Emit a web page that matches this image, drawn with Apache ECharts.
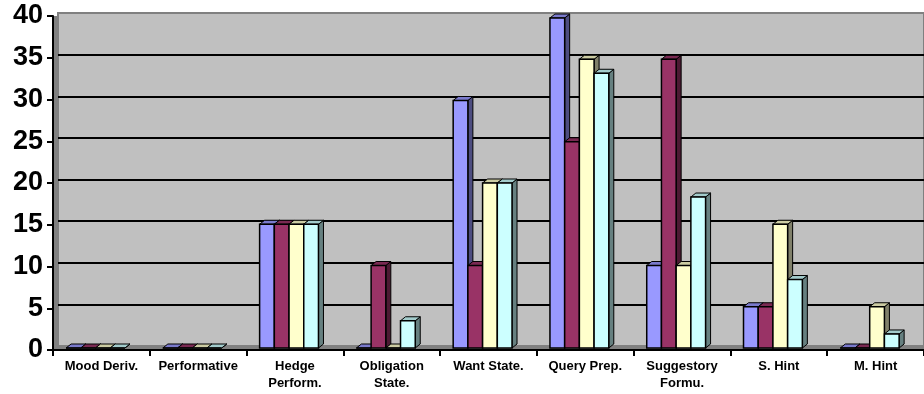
<!DOCTYPE html>
<html lang="en">
<head>
	<meta charset="UTF-8">
	<title>Chart</title>
	<style>
		html, body { margin: 0; padding: 0; background: #fff; }
	</style>
</head>
<body>
	<div id="main" style="width: 924px;height:394px;"></div>
<script type="text/javascript" src="https://cdn.jsdelivr.net/npm/echarts@6/dist/echarts.min.js"></script>
<script type="text/javascript">
	// data
	var categories = ['Mood Deriv.', 'Performative', 'Hedge\nPerform.', 'Obligation\nState.', 'Want State.',
		'Query Prep.', 'Suggestory\nFormu.', 'S. Hint', 'M. Hint'];
	var series1 = [0, 0, 15, 0, 30, 40, 10, 5, 0];
	var series2 = [0, 0, 15, 10, 10, 25, 35, 5, 0];
	var series3 = [0, 0, 15, 0, 20, 35, 10, 15, 5];
	var series4 = [0, 0, 15, 3.3, 20, 33.3, 18.3, 8.3, 1.7];
	var yMin = 0, yMax = 40, yStep = 5;

	var frontColors = ['#9999FF', '#993366', '#FFFFCC', '#CCFFFF'];
	var topColors = ['#7A7ACC', '#7A2952', '#CCCCA3', '#A3CCCC'];
	var sideColors = ['#4D4D80', '#4D1A33', '#80806A', '#668080'];

	var font = "'Liberation Sans', Arial, sans-serif";
	var myChart = echarts.init(document.getElementById('main'));

	// one custom series per data series, drawn as a little 3D column
	function makeSeries(data, k) {
		return {
			type: 'custom',
			name: 'Series ' + (k + 1),
			xAxisIndex: 2,
			yAxisIndex: 2,
			z: 3,
			clip: false,
			data: data.map(function (v, i) { return [i, v]; }),
			renderItem: function (params, api) {
				var cat = api.value(0), v = api.value(1);
				var base = api.coord([cat, 0]);
				var top = api.coord([cat, v]);
				var band = api.size([1, 0])[0];
				var w = band * 0.152;
				var x = base[0] - band * 0.365 + k * w;
				var dx = 5, dy = -4;
				var yb = base[1], yt = top[1];
				return {
					type: 'group',
					children: [
						{
							type: 'polygon',
							shape: { points: [[x + w, yt], [x + w + dx, yt + dy], [x + w + dx, yb + dy], [x + w, yb]] },
							style: { fill: sideColors[k], stroke: '#000', lineWidth: 1 }
						},
						{
							type: 'polygon',
							shape: { points: [[x, yt], [x + dx, yt + dy], [x + w + dx, yt + dy], [x + w, yt]] },
							style: { fill: topColors[k], stroke: '#000', lineWidth: 1 }
						},
						{
							type: 'rect',
							shape: { x: x, y: yt, width: w, height: yb - yt },
							style: { fill: frontColors[k], stroke: '#000', lineWidth: 1.5 }
						}
					]
				};
			}
		};
	}

	var gridLineColors = [];
	for (var t = yMin; t <= yMax; t += yStep) {
		gridLineColors.push(t === yMin || t === yMax ? '#808080' : '#000');
	}

	myChart.setOption({
		animation: false,
		grid: [
			// front edge: axes, floor colour
			{ left: 53, right: 0, top: 16, bottom: 44, show: true, z: 0,
				backgroundColor: '#808080', borderWidth: 0 },
			// back wall
			{ left: 58, right: -10, top: 13, bottom: 48, show: true, z: 1,
				backgroundColor: '#C0C0C0', borderColor: '#808080', borderWidth: 2 },
			// bars front faces
			{ left: 53, right: 0, top: 18, bottom: 46, show: false }
		],
		xAxis: [
			{
				gridIndex: 0, type: 'category', data: categories, z: 5,
				axisLine: { lineStyle: { color: '#000', width: 2 } },
				axisTick: { show: true, length: 6, lineStyle: { color: '#000', width: 2 } },
				axisLabel: { interval: 0, color: '#000', fontFamily: font, fontWeight: 'bold',
					fontSize: 13, lineHeight: 17, margin: 8 },
				splitLine: { show: false }
			},
			{ gridIndex: 1, type: 'category', data: categories, show: false },
			{ gridIndex: 2, type: 'category', data: categories, show: false }
		],
		yAxis: [
			{
				gridIndex: 0, type: 'value', min: yMin, max: yMax, interval: yStep, z: 5,
				axisLine: { show: true, lineStyle: { color: '#000', width: 2 } },
				axisTick: { show: true, length: 6, lineStyle: { color: '#000', width: 2 } },
				axisLabel: { color: '#000', fontFamily: font, fontWeight: 'bold', fontSize: 27, margin: 10 },
				splitLine: { show: false }
			},
			{
				gridIndex: 1, type: 'value', min: yMin, max: yMax, interval: yStep, z: 2,
				axisLine: { show: false }, axisTick: { show: false }, axisLabel: { show: false },
				splitLine: { show: true, lineStyle: { color: gridLineColors, width: 2 } }
			},
			{ gridIndex: 2, type: 'value', min: yMin, max: yMax, show: false, splitLine: { show: false } }
		],
		series: [
			makeSeries(series1, 0),
			makeSeries(series2, 1),
			makeSeries(series3, 2),
			makeSeries(series4, 3)
		]
	});
</script>
</body>
</html>
